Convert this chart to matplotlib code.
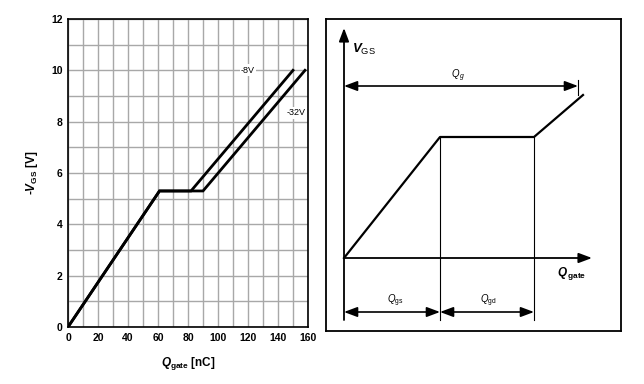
import matplotlib
matplotlib.use("Agg")
import matplotlib.pyplot as plt
import numpy as np

plt.rcParams['font.family'] = ['Liberation Sans', 'DejaVu Sans']
plt.rcParams['mathtext.fontset'] = 'custom'
plt.rcParams['mathtext.rm'] = 'Liberation Sans'
plt.rcParams['mathtext.it'] = 'Liberation Sans:italic'
plt.rcParams['mathtext.bf'] = 'Liberation Sans:bold'
plt.rcParams['mathtext.bfit'] = 'Liberation Sans:bold:italic'

# ---- data (left chart) ----
q_8v = [0, 61, 82, 150]
v_8v = [0, 5.3, 5.3, 10]
q_32v = [0, 61, 90, 158]
v_32v = [0, 5.3, 5.3, 10]
x_ticks = [0, 20, 40, 60, 80, 100, 120, 140, 160]
y_ticks = [0, 2, 4, 6, 8, 10, 12]

# ---- schematic (right chart), in panel units ----
sch_curve_x = [344, 440, 534, 583]
sch_curve_y = [258, 137, 137, 95]
sch_origin = (344, 258)
sch_qgs = (344, 440)
sch_qgd = (440, 534)
sch_qg = (344, 578)

W, H = 644, 384
fig = plt.figure(figsize=(W / 100, H / 100), dpi=100)

ax = fig.add_axes([68 / W, (H - 327) / H, 240 / W, 308 / H])
ax.set_xlim(0, 160)
ax.set_ylim(0, 12)
ax.set_xticks(x_ticks)
ax.set_yticks(y_ticks)
ax.set_xticks(np.arange(0, 161, 10), minor=True)
ax.set_yticks(np.arange(0, 13, 1), minor=True)
ax.grid(True, which='both', color='#a8a8a8', linewidth=1.0)
ax.set_axisbelow(True)
ax.tick_params(which='both', length=0, labelsize=7.5, pad=4)
for lab in ax.get_xticklabels() + ax.get_yticklabels():
    lab.set_fontweight('bold')
for s in ax.spines.values():
    s.set_linewidth(1.2)
    s.set_color('black')
ax.plot(q_32v, v_32v, color='black', linewidth=2.0, solid_joinstyle='miter')
ax.plot(q_8v, v_8v, color='black', linewidth=2.0, solid_joinstyle='miter')
ax.text(120, 10, '-8V', fontsize=6.5, ha='center', va='center',
        bbox=dict(facecolor='white', edgecolor='none', pad=1))
ax.text(152, 8.35, '-32V', fontsize=6.5, ha='center', va='center',
        bbox=dict(facecolor='white', edgecolor='none', pad=1))
ax.set_xlabel(r'$\mathbfit{Q}_{\mathbf{gate}}$ [nC]', fontsize=8.5, fontweight='bold', labelpad=9)
ax.set_ylabel(r'-$\mathbfit{V}_{\mathbf{GS}}$ [V]', fontsize=8.5, fontweight='bold', labelpad=8)

# ---- right panel ----
bx0, bx1, by0, by1 = 326, 621, 19, 331
ax2 = fig.add_axes([bx0 / W, (H - by1) / H, (bx1 - bx0) / W, (by1 - by0) / H])
ax2.set_xlim(bx0, bx1)
ax2.set_ylim(by1, by0)
ax2.set_xticks([])
ax2.set_yticks([])
for s in ax2.spines.values():
    s.set_linewidth(1.3)
    s.set_color('black')

ox, oy = sch_origin
arr = dict(arrowstyle='-|>,head_length=0.8,head_width=0.3', color='black', lw=1.3,
           shrinkA=0, shrinkB=0)
# axes arrows
ax2.annotate('', xy=(ox, 28), xytext=(ox, 320), arrowprops=arr)
ax2.annotate('', xy=(592, oy), xytext=(ox, oy), arrowprops=arr)
# curve
ax2.plot(sch_curve_x, sch_curve_y, color='black', linewidth=1.6)
# vertical dividers
ax2.plot([sch_curve_x[1]] * 2, [sch_curve_y[1], 320], color='black', linewidth=0.8)
ax2.plot([sch_curve_x[2]] * 2, [sch_curve_y[2], 320], color='black', linewidth=0.8)
# dimension arrows
darr = dict(arrowstyle='<|-|>,head_length=0.8,head_width=0.3', color='black', lw=1.2,
            shrinkA=0, shrinkB=0)
ax2.annotate('', xy=(sch_qg[1], 86), xytext=(sch_qg[0], 86), arrowprops=darr)
ax2.plot([sch_qg[1]] * 2, [80, 95], color='black', linewidth=0.8)
ax2.annotate('', xy=(sch_qgs[1], 312), xytext=(sch_qgs[0], 312), arrowprops=darr)
ax2.annotate('', xy=(sch_qgd[1], 312), xytext=(sch_qgd[0], 312), arrowprops=darr)

ax2.text(352, 49, r'$\mathbfit{V}_{\mathrm{GS}}$', fontsize=9.5, ha='left', va='center')
ax2.text(458, 76, r'$Q_{\,g}$', fontsize=7, ha='center', va='center')
ax2.text(557, 273, r'$\mathbfit{Q}_{\,\mathbf{gate}}$', fontsize=8.5, ha='left', va='center')
ax2.text(395, 301, r'$Q_{\mathrm{gs}}$', fontsize=7, ha='center', va='center')
ax2.text(488, 301, r'$Q_{\mathrm{gd}}$', fontsize=7, ha='center', va='center')

fig.savefig('out.png', dpi=100)
